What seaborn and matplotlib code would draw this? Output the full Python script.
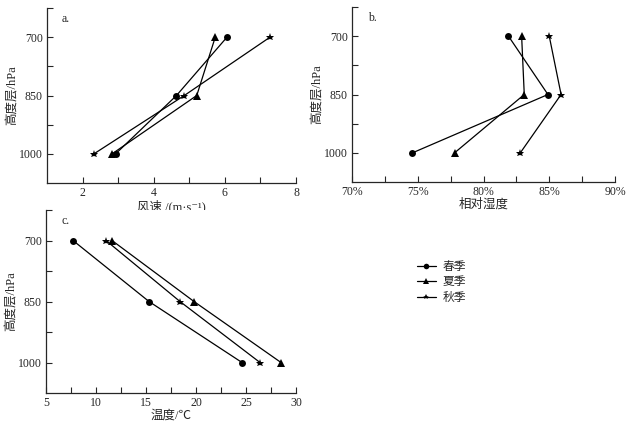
import pandas as pd
import seaborn as sns
import matplotlib.pyplot as plt
from matplotlib.ticker import FuncFormatter

levels = [700, 850, 1000]
seasons = ['春季', '夏季', '秋季']

# wind speed m/s
wind_spring = [6.06, 4.64, 2.93]
wind_summer = [5.73, 5.21, 2.83]
wind_autumn = [7.27, 4.86, 2.32]

# relative humidity %
rh_spring = [81.9, 84.9, 74.6]
rh_summer = [82.9, 83.1, 77.8]
rh_autumn = [85.0, 85.9, 82.8]

# temperature C
t_spring = [7.7, 15.3, 24.6]
t_summer = [11.6, 19.8, 28.5]
t_autumn = [11.0, 18.4, 26.4]


def long_df(spring, summer, autumn):
    rows = []
    for s, vals in zip(seasons, [spring, summer, autumn]):
        for lv, v in zip(levels, vals):
            rows.append({'level': lv, 'value': v, 'season': s})
    return pd.DataFrame(rows)


sns.set_theme(style='ticks')
plt.rcParams['font.family'] = ['Liberation Serif', 'Noto Sans CJK SC', 'DejaVu Sans']
plt.rcParams['font.size'] = 8

markers = {'春季': 'o', '夏季': '^', '秋季': '*'}
msizes = {'春季': 5, '夏季': 5.5, '秋季': 6.2}

fig = plt.figure(figsize=(6.36, 4.25), dpi=100)
W, H = 636, 425


def make_ax(l, r, t, b):
    return fig.add_axes([l / W, 1 - b / H, (r - l) / W, (b - t) / H])


ax_a = make_ax(47, 296, 8, 183)
ax_b = make_ax(352, 615, 7, 182)
ax_c = make_ax(46, 296, 210, 393)

panels = [
    (ax_a, long_df(wind_spring, wind_summer, wind_autumn), 'a.', '风速 /(m·s⁻¹)'),
    (ax_b, long_df(rh_spring, rh_summer, rh_autumn), 'b.', '相对湿度'),
    (ax_c, long_df(t_spring, t_summer, t_autumn), 'c.', '温度/℃'),
]

for ax, df, tag, xlabel in panels:
    sns.lineplot(data=df, x='value', y='level', hue='season', style='season',
                 palette=['black'] * 3, markers=markers, dashes=False, sort=False,
                 estimator=None, linewidth=0.9, markersize=5, markeredgewidth=0,
                 legend=(ax is ax_c), ax=ax)
    for line, s in zip(ax.get_lines(), seasons):
        line.set_markersize(msizes[s])
    ax.set_ylim(1075, 625)
    ax.set_yticks(levels)
    ax.set_yticks([625, 775, 925], minor=True)
    ax.set_ylabel('高度层/hPa', fontsize=9, labelpad=0)
    ax.set_xlabel(xlabel, fontsize=9, labelpad=0)
    ax.text(0.06, 0.97, tag, transform=ax.transAxes, fontsize=8.5, va='top', ha='left')
    sns.despine(ax=ax)
    for sp in ax.spines.values():
        sp.set_linewidth(0.9)
    ax.tick_params(which='both', direction='in', length=4, width=0.8,
                   labelsize=8.5, pad=3)

ax_a.set_xlim(1, 8)
ax_a.set_xticks([2, 4, 6, 8])
ax_a.set_xticks([3, 5, 7], minor=True)

ax_b.set_xlim(70, 90)
ax_b.set_xticks([70, 75, 80, 85, 90])
ax_b.set_xticks([72.5, 77.5, 82.5, 87.5], minor=True)
ax_b.xaxis.set_major_formatter(FuncFormatter(lambda v, p: f'{v:.0f}%'))

ax_c.set_xlim(5, 30)
ax_c.set_xticks([5, 10, 15, 20, 25, 30])
ax_c.set_xticks([7.5, 12.5, 17.5, 22.5, 27.5], minor=True)

handles, labels = ax_c.get_legend_handles_labels()
ax_c.get_legend().remove()
for h in handles:
    h.set_markersize(4)
fig.legend(handles, labels, loc='upper left', bbox_to_anchor=(412 / W, 1 - 256 / H),
           frameon=False, handlelength=1.6, handletextpad=0.6, labelspacing=0.3,
           fontsize=8.5, borderaxespad=0)

fig.savefig('out.png', dpi=100, facecolor='white')
